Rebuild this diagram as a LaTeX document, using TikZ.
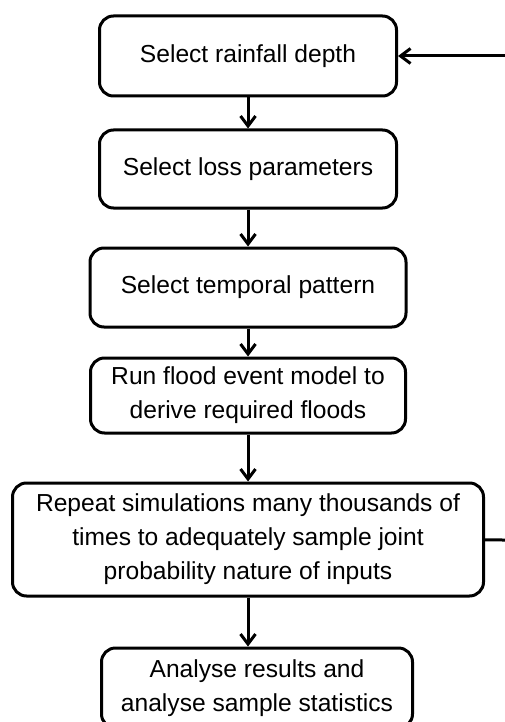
\documentclass[tikz,border=0pt]{standalone}
\usepackage{fontspec}
\setmainfont{Liberation Sans}
\usetikzlibrary{arrows.meta, positioning}

\begin{document}
\begin{tikzpicture}[x=1pt, y=1pt,
        box/.style={draw, line width=3pt, rounded corners=14pt, align=center,
            inner sep=0pt, font=\fontsize{24.6}{34}\selectfont},
        flow/.style={line width=3pt, -{Straight Barb[length=10pt, width=15pt]}}]
        \useasboundingbox (0,0) rectangle (505,-722);

        \node[box, minimum width=297pt, minimum height=80pt] (0) at (248,-56) {Select rainfall depth};
        \node[box, minimum width=297pt, minimum height=78pt, below=31pt of 0] (1) {Select loss parameters};
        \node[box, minimum width=316pt, minimum height=79pt, below=37pt of 1] (2) {Select temporal pattern};
        \node[box, minimum width=315pt, minimum height=75pt, below=28pt of 2] (3) {Run flood event model to\\derive required floods};
        \node[box, minimum width=471pt, minimum height=113pt, below=47pt of 3] (4) {Repeat simulations many thousands of\\times to adequately sample joint\\probability nature of inputs};
        \node[box, minimum width=311pt, minimum height=80pt, below=49pt of 4, xshift=9pt] (5) {Analyse results and\\analyse sample statistics};

        \coordinate (in) at (505,-56);
        \coordinate (out) at (505,-540);

        \path[flow]
            (0) edge (1)
            (1) edge (2)
            (2) edge (3)
            (3) edge (4)
            (4) edge (4 |- 5.north)
            (in) edge (0)
            (4) edge[-] (out)
            ;
\end{tikzpicture}
\end{document}
